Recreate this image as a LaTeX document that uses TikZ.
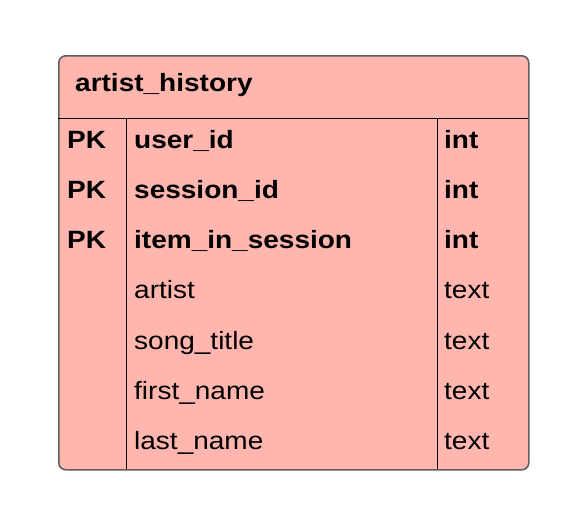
\documentclass[tikz,border=0pt]{standalone}
\usepackage{fontspec}
\setmainfont[FakeStretch=1.12]{Liberation Sans}
\usetikzlibrary{positioning}
\definecolor{tablepink}{RGB}{255,182,174}
\definecolor{framegray}{RGB}{95,95,95}

\begin{document}
\begin{tikzpicture}[x=1pt, y=-1pt]
	\tikzstyle{frame} = [draw=framegray, line width=1.6pt, fill=tablepink,
	rounded corners=7pt, inner sep=0pt, anchor=north west]
	\tikzstyle{keytext} = [anchor=base west, inner sep=0pt,
	font=\fontsize{25}{30}\selectfont\bfseries]
	\tikzstyle{fieldtext} = [anchor=base west, inner sep=0pt,
	font=\fontsize{25}{30}\selectfont]

	\useasboundingbox (0,0) rectangle (585,522);

	% table frame and rules
	\node[frame, minimum width=470pt, minimum height=414pt] (table) at (58,55) {};
	\coordinate (hl) at (58,118);
	\coordinate (hr) at (528,118);
	\coordinate (ctop) at (126,118);
	\coordinate (cbot) at (126,469);
	\coordinate (ttop) at (437,118);
	\coordinate (tbot) at (437,469);
	\draw[line width=1pt] (hl) -- (hr);
	\draw[line width=1pt] (ctop) -- (cbot);
	\draw[line width=1pt] (ttop) -- (tbot);

	% header
	\node[keytext] (title) at (75,91) {artist\_history};

	% key rows
	\path
		node[keytext] (pk1) at (67,148) {PK}
		node[keytext] (user) at (134,148) {user\_id}
		node[keytext] (usertype) at (444,148) {int}

		node[keytext] (pk2) at (67,198) {PK}
		node[keytext] (session) at (134,198) {session\_id}
		node[keytext] (sessiontype) at (444,198) {int}

		node[keytext] (pk3) at (67,248) {PK}
		node[keytext] (item) at (134,248) {item\_in\_session}
		node[keytext] (itemtype) at (444,248) {int}
	;

	% plain rows
	\path
		node[fieldtext] (artist) at (134,298) {artist}
		node[fieldtext] (artisttype) at (444,298) {text}

		node[fieldtext] (song) at (134,349) {song\_title}
		node[fieldtext] (songtype) at (444,349) {text}

		node[fieldtext] (first) at (134,399) {first\_name}
		node[fieldtext] (firsttype) at (444,399) {text}

		node[fieldtext] (last) at (134,449) {last\_name}
		node[fieldtext] (lasttype) at (444,449) {text}
	;
\end{tikzpicture}
\end{document}
